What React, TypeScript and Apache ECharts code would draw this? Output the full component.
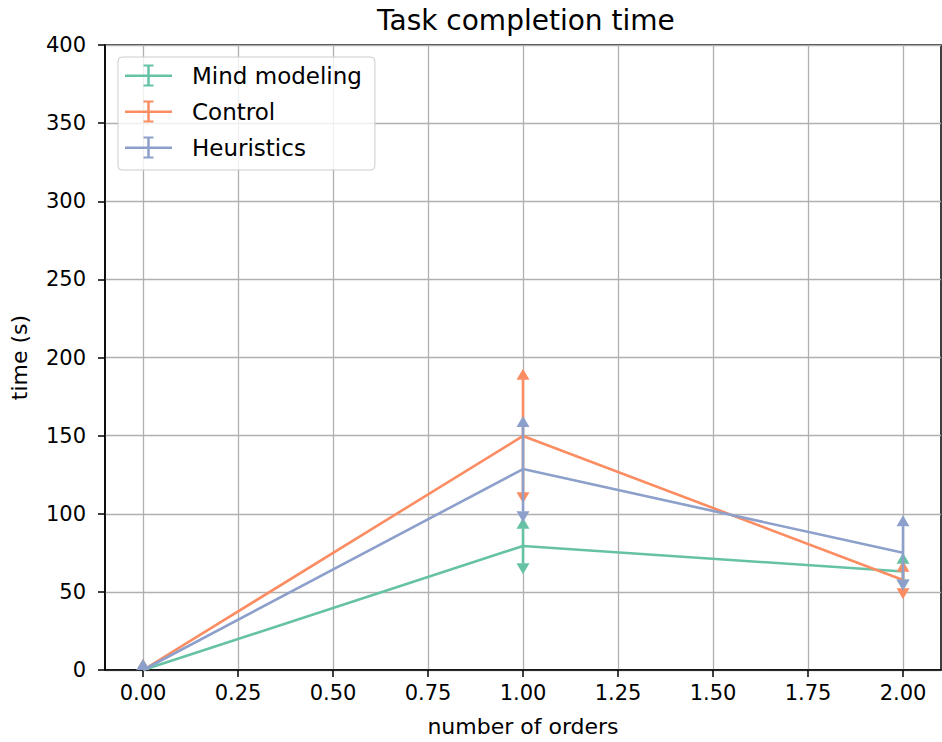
import React, { useEffect, useRef } from 'react';
import * as echarts from 'echarts';

const xValues = [0, 1, 2];
const seriesNames = ['Mind modeling', 'Control', 'Heuristics'];
const mindMeans = [0, 79.4, 63];
const mindErr = [0, 11, 5];
const controlMeans = [0, 149.8, 57.6];
const controlErr = [0, 36, 5.3];
const heurMeans = [0, 128.6, 75];
const heurErr = [0, 27, 17];
const colors = ['#66c2a5', '#fc8d62', '#8da0cb'];
const xTicks = [0, 0.25, 0.5, 0.75, 1, 1.25, 1.5, 1.75, 2];

const FONT = 'DejaVu Sans';
const legendIcon =
  'path://M0,10 L47,10 L47,12.5 L0,12.5 Z M22.25,0.5 L24.75,0.5 L24.75,21.5 L22.25,21.5 Z M18.5,0 L28.5,0 L28.5,2 L18.5,2 Z M18.5,20 L28.5,20 L28.5,22 L18.5,22 Z';

function makeErrRender(color: string) {
  return (params: any, api: any) => {
    const x = api.value(0);
    const lo = api.value(1);
    const hi = api.value(2);
    const pLo = api.coord([x, lo]);
    const pHi = api.coord([x, hi]);
    const w = 6.5;
    const h = 11;
    const cs = params.coordSys;
    return {
      type: 'group',
      clipPath: { type: 'rect', shape: { x: cs.x, y: cs.y, width: cs.width, height: cs.height } },
      children: [
        {
          type: 'line',
          shape: { x1: pLo[0], y1: pLo[1], x2: pHi[0], y2: pHi[1] },
          style: { stroke: color, lineWidth: 2.6 },
        },
        {
          type: 'polygon',
          shape: { points: [[pHi[0] - w, pHi[1]], [pHi[0] + w, pHi[1]], [pHi[0], pHi[1] - h]] },
          style: { fill: color },
        },
        {
          type: 'polygon',
          shape: { points: [[pLo[0] - w, pLo[1]], [pLo[0] + w, pLo[1]], [pLo[0], pLo[1] + h]] },
          style: { fill: color },
        },
      ],
    };
  };
}

export default function App() {
  const ref = useRef<HTMLDivElement>(null);
  useEffect(() => {
    if (!ref.current) return;
    const chart = echarts.init(ref.current, null, { renderer: 'svg' });
    const means = [mindMeans, controlMeans, heurMeans];
    const errs = [mindErr, controlErr, heurErr];
    const series: any[] = [];
    seriesNames.forEach((name, i) => {
      series.push({
        name,
        type: 'line',
        data: xValues.map((x, j) => [x, means[i][j]]),
        symbol: 'none',
        lineStyle: { color: colors[i], width: 2.6 },
        itemStyle: { color: colors[i] },
        z: 2 + i,
      });
      series.push({
        name: name + ' error',
        type: 'custom',
        data: xValues.map((x, j) => [x, means[i][j] - errs[i][j], means[i][j] + errs[i][j]]),
        renderItem: makeErrRender(colors[i]),
        encode: { x: 0, y: [1, 2] },
        z: 2 + i,
      });
    });
    chart.setOption({
      animation: false,
      title: {
        text: 'Task completion time',
        left: 372,
        top: 1,
        textStyle: { fontFamily: FONT, fontSize: 28, fontWeight: 'normal', color: '#000' },
      },
      legend: {
        data: seriesNames.map((n) => ({ name: n, icon: legendIcon })),
        orient: 'vertical',
        left: 118,
        top: 57,
        itemWidth: 47,
        itemHeight: 22,
        itemGap: 13,
        padding: [7, 13, 11, 7],
        backgroundColor: 'rgba(255,255,255,0.8)',
        borderColor: '#cccccc',
        borderWidth: 1,
        borderRadius: 4,
        itemStyle: { borderWidth: 0 },
        textStyle: { fontFamily: FONT, fontSize: 23, color: '#000', lineHeight: 22, padding: [0, 0, 0, 15] },
      },
      grid: {
        left: 105,
        right: 1,
        top: 45,
        bottom: 72,
        show: true,
        borderColor: '#000',
        borderWidth: 1.5,
        containLabel: false,
        outerBoundsMode: 'none',
      },
      xAxis: {
        type: 'value',
        min: -0.1,
        max: 2.1,
        name: 'number of orders',
        nameLocation: 'middle',
        nameGap: 45,
        nameTextStyle: { fontFamily: FONT, fontSize: 22, color: '#000' },
        axisLine: { show: true, onZero: false, lineStyle: { color: '#000', width: 1.5 } },
        axisTick: { show: true, length: 7, customValues: xTicks, lineStyle: { color: '#000', width: 1.5 } },
        axisLabel: {
          customValues: xTicks,
          formatter: (v: number) => v.toFixed(2),
          fontFamily: FONT,
          fontSize: 21,
          color: '#000',
          margin: 12,
        },
        splitLine: { show: true, lineStyle: { color: '#b0b0b0', width: 1.3 } },
      },
      yAxis: {
        type: 'value',
        min: 0,
        max: 400,
        interval: 50,
        name: 'time (s)',
        nameLocation: 'middle',
        nameGap: 75,
        nameTextStyle: { fontFamily: FONT, fontSize: 22, color: '#000' },
        axisLine: { show: true, onZero: false, lineStyle: { color: '#000', width: 1.5 } },
        axisTick: { show: true, length: 7, lineStyle: { color: '#000', width: 1.5 } },
        axisLabel: { fontFamily: FONT, fontSize: 21, color: '#000', margin: 19 },
        splitLine: { show: true, lineStyle: { color: '#b0b0b0', width: 1.3 } },
      },
      series,
    });
    return () => chart.dispose();
  }, []);
  return <div ref={ref} style={{ position: 'absolute', left: 0, top: 0, width: 942, height: 742 }} />;
}
